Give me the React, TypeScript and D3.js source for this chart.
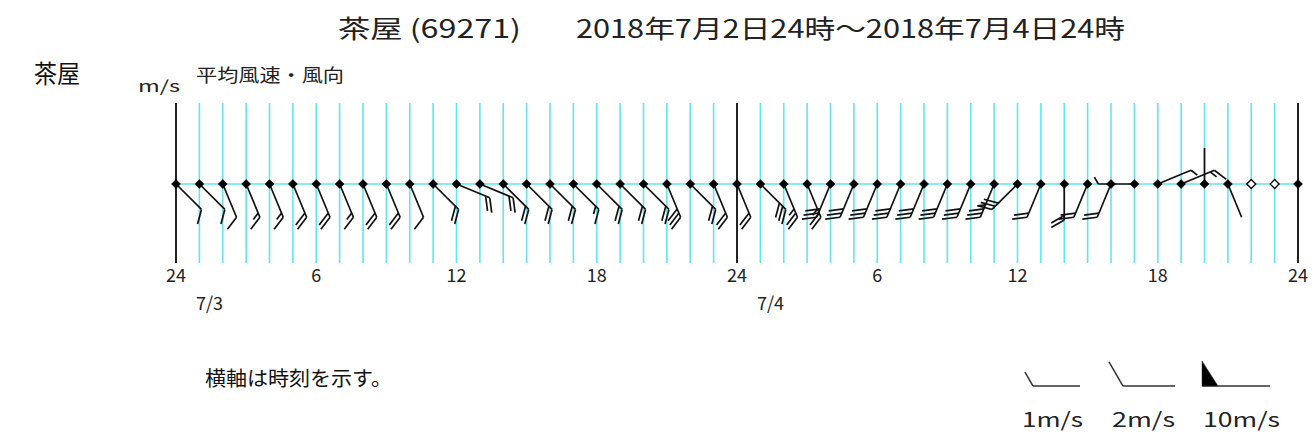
import React from "react";
import * as d3 from "d3";

// ---- data ----
const hourTicks = [0, 6, 12, 18, 24, 30, 36, 42, 48];
const hourTickLabels = ["24", "6", "12", "18", "24", "6", "12", "18", "24"];
const dateLabels = ["7/3", "7/4"];
const dateLabelHours = [0, 24];
const dayBoundaryHours = [0, 24, 48];

// wind direction (16-point, direction wind blows from) for each hour 0..48
const windDir: (string | null)[] = [
  "SE", "SE", "SSE", "SSE", "SSE", "SSE", "SSE", "SSE", "SSE", "SSE",
  "SSE", "SE", "ESE", "ESE", "SE", "SE", "SE", "SE", "SE", "SE",
  "SE", "SSE", "SE", "SSE", "SSE", "SE", "SSE", "SSE", "SSW", "SSW",
  "SSW", "SSW", "SSW", "SSW", "SSW", "SSW", "SW", "SSW", "S", "SSW",
  "SSW", "W", "ENE", "ENE", "N", "SSE", "CALM", "CALM", null,
];
// mean wind speed (m/s) for each hour 0..48
const windSpeed = [
  2, 2, 2, 3, 3, 4, 4, 3, 4, 4,
  2, 4, 4, 4, 4, 4, 4, 3, 4, 4,
  4, 6, 4, 4, 4, 6, 5, 5, 6, 6,
  6, 6, 6, 6, 6, 7, 6, 4, 4, 4,
  4, 1, 1, 3, 0, 0, 0, 0, 0,
];

const legendSpeeds = [1, 2, 10];
const legendLabels = ["1m/s", "2m/s", "10m/s"];

const COMPASS: Record<string, number> = {
  N: 0, NNE: 22.5, NE: 45, ENE: 67.5, E: 90, ESE: 112.5, SE: 135, SSE: 157.5,
  S: 180, SSW: 202.5, SW: 225, WSW: 247.5, W: 270, WNW: 292.5, NW: 315, NNW: 337.5,
};

const FONT = "'Noto Sans CJK JP', 'Noto Sans', sans-serif";

type Seg = { x1: number; y1: number; x2: number; y2: number };

function barbShapes(
  x0: number, y0: number, deg: number, spd: number,
  L: number, longLen: number, shortLen: number, gap: number, flagLen: number, flagBase: number
): { segs: Seg[]; polys: string[] } {
  const r = (deg * Math.PI) / 180;
  const ux = Math.sin(r), uy = -Math.cos(r);
  const a = (60 * Math.PI) / 180;
  const fx = ux * Math.cos(a) - uy * Math.sin(a);
  const fy = ux * Math.sin(a) + uy * Math.cos(a);
  const px = -uy, py = ux;
  const segs: Seg[] = [];
  const polys: string[] = [];
  const ex = x0 + L * ux, ey = y0 + L * uy;
  segs.push({ x1: x0, y1: y0, x2: ex, y2: ey });
  let rem = Math.round(spd);
  const flags = Math.floor(rem / 10);
  rem = rem % 10;
  const longs = Math.floor(rem / 2);
  const shorts = rem % 2;
  let pos = L;
  for (let i = 0; i < flags; i++) {
    const bx = x0 + pos * ux, by = y0 + pos * uy;
    const cx = x0 + (pos - flagBase) * ux, cy = y0 + (pos - flagBase) * uy;
    polys.push(`${bx},${by} ${bx + flagLen * px},${by + flagLen * py} ${cx},${cy}`);
    pos -= flagBase + gap;
  }
  for (let i = 0; i < longs; i++) {
    const bx = x0 + pos * ux, by = y0 + pos * uy;
    segs.push({ x1: bx, y1: by, x2: bx + longLen * fx, y2: by + longLen * fy });
    pos -= gap;
  }
  for (let i = 0; i < shorts; i++) {
    const bx = x0 + pos * ux, by = y0 + pos * uy;
    segs.push({ x1: bx, y1: by, x2: bx + shortLen * fx, y2: by + shortLen * fy });
    pos -= gap;
  }
  return { segs, polys };
}

export default function App() {
  const W = 1316, H = 446;
  const x = d3.scaleLinear().domain([0, 48]).range([176, 1298]);
  const yTop = 103, yBot = 263, yAxis = 184;
  const hours = d3.range(0, 49);

  const legendX = d3.scaleOrdinal<number, number>().domain(legendSpeeds).range([1080, 1175, 1270]);
  const legendStaff = [47, 52, 68];

  return (
    <svg width={W} height={H} style={{ position: "absolute", left: 0, top: 0, background: "#fff" }}
      fontFamily={FONT}>
      {/* left station label */}
      <text x={34} y={83} fontSize={25} fill="#111" textLength={46} lengthAdjust="spacingAndGlyphs">茶屋</text>
      {/* title */}
      <text x={338} y={38} fontSize={25} fill="#222" textLength={183} lengthAdjust="spacingAndGlyphs">茶屋 (69271)</text>
      <text x={576} y={38} fontSize={25} fill="#222" textLength={549} lengthAdjust="spacingAndGlyphs">2018年7月2日24時～2018年7月4日24時</text>
      {/* sub labels */}
      <text x={196} y={82} fontSize={18} fill="#222" textLength={148} lengthAdjust="spacingAndGlyphs">平均風速・風向</text>
      <text x={138} y={92} fontSize={16} fill="#222" textLength={42} lengthAdjust="spacingAndGlyphs">m/s</text>

      {/* hourly cyan gridlines */}
      {hours.filter((h) => !dayBoundaryHours.includes(h)).map((h) => (
        <line key={"g" + h} x1={x(h)} x2={x(h)} y1={yTop} y2={yBot} stroke="#5ee8ee" strokeWidth={1.6} />
      ))}
      <line x1={x(0)} x2={x(48)} y1={yAxis} y2={yAxis} stroke="#5ee8ee" strokeWidth={1.6} />
      {dayBoundaryHours.map((h) => (
        <line key={"b" + h} x1={x(h)} x2={x(h)} y1={yTop} y2={yBot} stroke="#222" strokeWidth={2} />
      ))}

      {/* tick labels */}
      {hourTicks.map((h, i) => (
        <text key={"t" + h} x={x(h)} y={282} fontSize={18} fill="#222" textAnchor="middle">{hourTickLabels[i]}</text>
      ))}
      {dateLabels.map((d, i) => (
        <text key={"d" + i} x={x(dateLabelHours[i]) + 20} y={310} fontSize={18} fill="#222">{d}</text>
      ))}

      {/* wind barbs */}
      {hours.map((h) => {
        const dir = windDir[h];
        if (!dir || dir === "CALM") return null;
        const { segs, polys } = barbShapes(x(h), yAxis, COMPASS[dir], windSpeed[h], 36, 15, 8, 4.5, 14, 8);
        return (
          <g key={"w" + h} stroke="#111" strokeWidth={1.7} fill="#111">
            {segs.map((s, i) => <line key={i} {...s} />)}
            {polys.map((p, i) => <polygon key={"p" + i} points={p} />)}
          </g>
        );
      })}

      {/* station dots */}
      {hours.map((h) => {
        const cx = x(h), cy = yAxis;
        const calm = windDir[h] === "CALM";
        return (
          <path key={"m" + h} d={`M${cx},${cy - 4.5}L${cx + 4.5},${cy}L${cx},${cy + 4.5}L${cx - 4.5},${cy}Z`}
            fill={calm ? "#fff" : "#000"} stroke="#000" strokeWidth={calm ? 1.3 : 0.5} />
        );
      })}

      {/* footnote */}
      <text x={205} y={386} fontSize={20} fill="#111" textLength={187} lengthAdjust="spacingAndGlyphs">横軸は時刻を示す。</text>

      {/* legend */}
      {legendSpeeds.map((s, i) => {
        const { segs, polys } = barbShapes(legendX(s), 386, 270, s, legendStaff[i], 28, 16, 5, 25, 16);
        return (
          <g key={"l" + s} stroke="#333" strokeWidth={1.5} fill="#000">
            {segs.map((sg, j) => <line key={j} {...sg} />)}
            {polys.map((p, j) => <polygon key={"p" + j} points={p} strokeWidth={0.5} />)}
          </g>
        );
      })}
      {legendLabels.map((lab, i) => (
        <text key={"ll" + i} x={[1022, 1112, 1203][i]} y={427} fontSize={20} fill="#222"
          textLength={[61, 63, 77][i]} lengthAdjust="spacingAndGlyphs">{lab}</text>
      ))}
    </svg>
  );
}
